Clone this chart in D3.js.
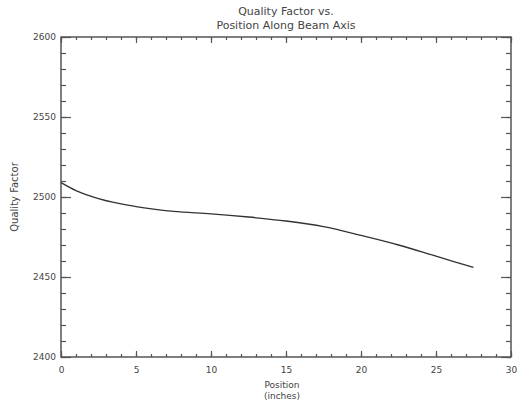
<!DOCTYPE html>
<html>
<head>
<meta charset="utf-8">
<script src="https://cdn.jsdelivr.net/npm/d3@7"></script>
<style>
  body { margin: 0; background: #fff; }
  text { font-family: "DejaVu Sans", sans-serif; fill: #444; }
</style>
</head>
<body>
<script>
// chart data
var positions = [0, 1, 2.5, 5, 7.5, 10, 12.5, 15, 17.5, 20, 22.5, 25, 27.5];
var qValues = [2509, 2504, 2499, 2494, 2491, 2489.5, 2487.5, 2485, 2481.5, 2476, 2470, 2463, 2456];
var xTicks = [0, 5, 10, 15, 20, 25, 30];
var yTicks = [2400, 2450, 2500, 2550, 2600];

var svgWidth = 517, svgHeight = 407;
var margin = { top: 37, right: 6, bottom: 50, left: 61 };
var width = svgWidth - margin.left - margin.right;
var height = svgHeight - margin.top - margin.bottom;

var svg = d3.select("body").append("svg")
  .attr("width", svgWidth)
  .attr("height", svgHeight);

var chartGroup = svg.append("g")
  .attr("transform", `translate(${margin.left}, ${margin.top})`);

var x = d3.scaleLinear().domain([0, 30]).range([0, width]);
var y = d3.scaleLinear().domain([2400, 2600]).range([height, 0]);

var axisColor = "#555";

// minor ticks (every 1 on x, every 10 on y)
var xMinor = d3.range(0, 31, 1);
var yMinor = d3.range(2400, 2601, 10);

function drawAxis(axis, transform) {
  var g = chartGroup.append("g")
    .attr("transform", transform)
    .call(axis);
  g.select(".domain").remove();
  g.selectAll("line").attr("stroke", axisColor).attr("stroke-width", 1.2);
  return g;
}

// minor
drawAxis(d3.axisBottom(x).tickValues(xMinor).tickSize(-3).tickFormat(""), `translate(0,${height})`);
drawAxis(d3.axisTop(x).tickValues(xMinor).tickSize(-3).tickFormat(""), "translate(0,0)");
drawAxis(d3.axisLeft(y).tickValues(yMinor).tickSize(-5).tickFormat(""), "translate(0,0)");
drawAxis(d3.axisRight(y).tickValues(yMinor).tickSize(-5).tickFormat(""), `translate(${width},0)`);

// major
var bottom = drawAxis(d3.axisBottom(x).tickValues(xTicks).tickSize(-6).tickPadding(10).tickFormat(d3.format("d")), `translate(0,${height})`);
bottom.selectAll("text").style("font-size", "9px").attr("fill", "#444");
drawAxis(d3.axisTop(x).tickValues(xTicks).tickSize(-6).tickFormat(""), "translate(0,0)");
var left = drawAxis(d3.axisLeft(y).tickValues(yTicks).tickSize(-10).tickPadding(5).tickFormat(d3.format("d")), "translate(0,0)");
left.selectAll("text").style("font-size", "9px").attr("fill", "#444");
drawAxis(d3.axisRight(y).tickValues(yTicks).tickSize(-10).tickFormat(""), `translate(${width},0)`);

// frame
chartGroup.append("rect")
  .attr("width", width)
  .attr("height", height)
  .attr("fill", "none")
  .attr("stroke", axisColor)
  .attr("stroke-width", 1.5);

// the curve
var line = d3.line()
  .x(function(d, i) { return x(positions[i]); })
  .y(function(d) { return y(d); })
  .curve(d3.curveMonotoneX);

chartGroup.append("path")
  .datum(qValues)
  .attr("d", line)
  .attr("fill", "none")
  .attr("stroke", "#333")
  .attr("stroke-width", 1.3);

// title
svg.append("text")
  .attr("x", margin.left + width / 2)
  .attr("y", 15)
  .attr("text-anchor", "middle")
  .style("font-size", "11px")
  .text("Quality Factor vs.");
svg.append("text")
  .attr("x", margin.left + width / 2)
  .attr("y", 29)
  .attr("text-anchor", "middle")
  .style("font-size", "11px")
  .text("Position Along Beam Axis");

// y label
svg.append("text")
  .attr("transform", `translate(18, ${margin.top + height / 2}) rotate(-90)`)
  .attr("text-anchor", "middle")
  .style("font-size", "10px")
  .text("Quality Factor");

// x label
svg.append("text")
  .attr("x", margin.left + width / 2 - 4)
  .attr("y", 388)
  .attr("text-anchor", "middle")
  .style("font-size", "9px")
  .text("Position");
svg.append("text")
  .attr("x", margin.left + width / 2 - 4)
  .attr("y", 399)
  .attr("text-anchor", "middle")
  .style("font-size", "9px")
  .text("(inches)");
</script>
</body>
</html>
